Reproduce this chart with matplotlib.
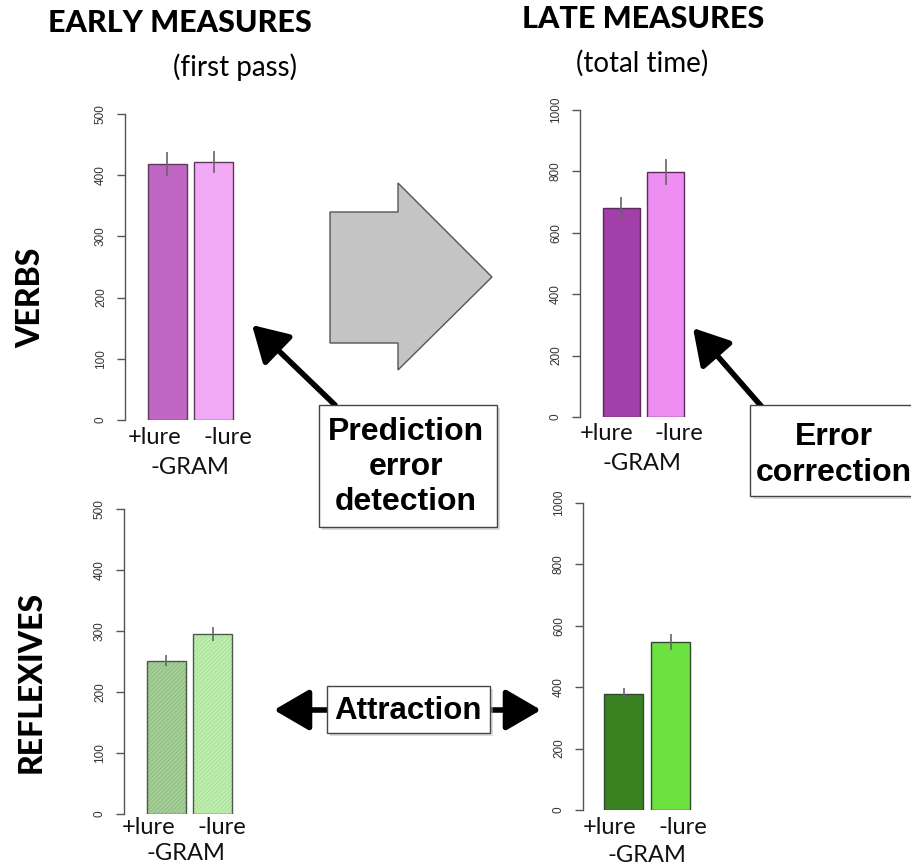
import matplotlib
matplotlib.use("Agg")
import matplotlib.pyplot as plt
from matplotlib.patches import Polygon, Rectangle, FancyArrowPatch

W, H = 911, 868

# ---- data ----
categories = ["+lure", "-lure"]
group_label = "-GRAM"
verbs_early = [418, 421]
verbs_early_err = [20, 18]
verbs_late = [681, 798]
verbs_late_err = [36, 41]
refl_early = [251, 295]
refl_early_err = [9, 12]
refl_late = [378, 547]
refl_late_err = [20, 25]
early_ticks = [0, 100, 200, 300, 400, 500]
late_ticks = [0, 200, 400, 600, 800, 1000]

fig = plt.figure(figsize=(W / 100, H / 100), dpi=100)
fig.patch.set_facecolor("white")


def fx(x):
    return x / W


def fy(y):
    return 1 - y / H


def make_ax(left, y0, ytop, width, ymax, xlim, ticks):
    ax = fig.add_axes([fx(left), fy(y0), width / W, (y0 - ytop) / H])
    ax.set_xlim(*xlim)
    ax.set_ylim(0, ymax)
    for s in ["top", "right", "bottom"]:
        ax.spines[s].set_visible(False)
    ax.spines["left"].set_color("#555555")
    ax.spines["left"].set_linewidth(1.0)
    ax.spines["left"].set_bounds(0, ymax)
    ax.set_xticks([])
    ax.set_yticks(ticks)
    ax.set_yticklabels([str(t) for t in ticks], rotation=90, va="center",
                       fontsize=8.5, color="#333333", family="Liberation Sans")
    ax.tick_params(axis="y", length=6, width=1.0, color="#555555", pad=7)
    ax.patch.set_alpha(0)
    return ax


pos = [0.7, 1.9]

# top-left: verbs early
ax1 = make_ax(125, 420, 114, 115.5, 500, (-0.4, 2.6), early_ticks)
ax1.bar(pos, verbs_early, width=1, color=["#BF67C2", "#F2AAF7"],
        edgecolor="#5a3a5a", linewidth=1.0)
ax1.errorbar(pos, verbs_early, yerr=verbs_early_err, fmt="none",
             ecolor="#666666", elinewidth=1.2, capsize=0)

# top-right: verbs late
ax2 = make_ax(580, 417, 110, 111, 1000, (-0.42, 2.58), late_ticks)
ax2.bar(pos, verbs_late, width=1, color=["#A23FA8", "#EE8EF2"],
        edgecolor="#5a2a5a", linewidth=1.0)
ax2.errorbar(pos, verbs_late, yerr=verbs_late_err, fmt="none",
             ecolor="#666666", elinewidth=1.2, capsize=0)

# bottom-left: reflexives early (shaded)
plt.rcParams["hatch.linewidth"] = 0.35
ax3 = make_ax(124, 814, 509, 115.5, 500, (-0.4, 2.6), early_ticks)
bars3 = ax3.bar(pos, refl_early, width=1, color=["#A4CF96", "#BDEEAD"],
                edgecolor="#4a5a4a", linewidth=1.0)
for b, hc in zip(bars3, ["#7FA872", "#9DD08D"]):
    b.set_hatch("////////")
    b._hatch_color = matplotlib.colors.to_rgba(hc)
ax3.errorbar(pos, refl_early, yerr=refl_early_err, fmt="none",
             ecolor="#666666", elinewidth=1.2, capsize=0)

# bottom-right: reflexives late
ax4 = make_ax(583, 810, 503, 117, 1000, (-0.35, 2.65), late_ticks)
ax4.bar(pos, refl_late, width=1, color=["#3A8221", "#6BE23F"],
        edgecolor="#2f4a2f", linewidth=1.0)
ax4.errorbar(pos, refl_late, yerr=refl_late_err, fmt="none",
             ecolor="#666666", elinewidth=1.2, capsize=0)

# category labels
label_pos = [
    ((155, 437), (228, 437), (190, 467)),
    ((607, 433), (679, 433), (642, 463)),
    ((149, 828), (222, 828), (186, 854)),
    ((610, 828), (683, 828), (647, 855)),
]
for (p1, p2, pg) in label_pos:
    for (x, y), c in zip((p1, p2), categories):
        fig.text(fx(x), fy(y), c, ha="center", va="center", fontsize=17,
                 family="Lato", color="#111111")
    fig.text(fx(pg[0]), fy(pg[1]), group_label, ha="center", va="center",
             fontsize=17, family="Lato", color="#111111")

# titles
fig.text(fx(180), fy(23), "EARLY MEASURES", ha="center", va="center",
         fontsize=22, fontweight="black", family="Lato", color="black")
fig.text(fx(235), fy(67), "(first pass)", ha="center", va="center",
         fontsize=20, family="Lato", color="black")
fig.text(fx(643), fy(19), "LATE MEASURES", ha="center", va="center",
         fontsize=22, fontweight="black", family="Lato", color="black")
fig.text(fx(642), fy(63), "(total time)", ha="center", va="center",
         fontsize=20, family="Lato", color="black")
fig.text(fx(31), fy(298), "VERBS", ha="center", va="center", rotation=90,
         fontsize=23, fontweight="black", family="Lato", color="black")
fig.text(fx(31), fy(682), "REFLEXIVES", ha="center", va="center", rotation=90,
         fontsize=23, fontweight="black", family="Lato", color="black")

# big gray arrow
verts = [(330, 212), (398, 212), (398, 183), (492, 277), (398, 370),
         (398, 343), (330, 343)]
fig.patches.append(Polygon([(fx(x), fy(y)) for x, y in verts], closed=True,
                           facecolor="#C4C4C4", edgecolor="#555555",
                           linewidth=1.0, transform=fig.transFigure))


def box(x0, y0, x1, y1):
    fig.patches.append(Rectangle((fx(x0) + 0.003, fy(y1) - 0.003),
                                 (x1 - x0) / W, (y1 - y0) / H,
                                 facecolor="#BBBBBB", edgecolor="none",
                                 transform=fig.transFigure, alpha=0.5))
    fig.patches.append(Rectangle((fx(x0), fy(y1)), (x1 - x0) / W,
                                 (y1 - y0) / H, facecolor="white",
                                 edgecolor="#444444", linewidth=1.0,
                                 transform=fig.transFigure))


def arrow(p0, p1):
    fig.patches.append(FancyArrowPatch((fx(p0[0]), fy(p0[1])),
                                       (fx(p1[0]), fy(p1[1])),
                                       arrowstyle="-|>,head_length=1.2,head_width=0.7",
                                       mutation_scale=18, linewidth=4,
                                       color="black", transform=fig.transFigure,
                                       shrinkA=0, shrinkB=0))


arrow((335, 405), (252, 325))
box(319, 405, 497, 527)
fig.text(fx(406), fy(467), "Prediction\nerror\ndetection", ha="center",
         va="center", fontsize=23, fontweight="bold",
         family="Liberation Sans", linespacing=1.22, color="black")

arrow((762, 407), (693, 328))
box(750, 405, 918, 496)
fig.text(fx(834), fy(455), "Error\ncorrection", ha="center", va="center",
         fontsize=23, fontweight="bold", family="Liberation Sans",
         linespacing=1.3, color="black")

arrow((330, 710), (274, 710))
arrow((488, 710), (541, 710))
box(327, 686, 490, 733)
fig.text(fx(408), fy(711), "Attraction", ha="center", va="center",
         fontsize=22.5, fontweight="bold", family="Liberation Sans",
         color="black")

fig.savefig("out.png", dpi=100, facecolor="white")
